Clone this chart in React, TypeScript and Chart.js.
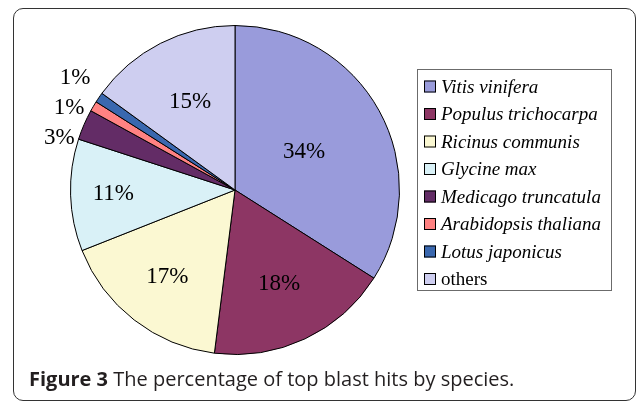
import { useEffect, useRef } from "react";
import { Chart, registerables } from "chart.js";

Chart.register(...registerables);

const species = [
  "Vitis vinifera",
  "Populus trichocarpa",
  "Ricinus communis",
  "Glycine max",
  "Medicago truncatula",
  "Arabidopsis thaliana",
  "Lotus japonicus",
  "others",
];
const italicNames = [true, true, true, true, true, true, true, false];
const percentages = [34, 18, 17, 11, 3, 1, 1, 15];
const percentLabels = ["34%", "18%", "17%", "11%", "3%", "1%", "1%", "15%"];
const sliceColors = [
  "#999BDB",
  "#8D3664",
  "#FBF8D2",
  "#D9F1F7",
  "#632C66",
  "#FF8282",
  "#3A68AF",
  "#CECEF0",
];
const captionBold = "Figure 3";
const captionText = " The percentage of top blast hits by species.";

// label placement style: fraction of radius for inside labels, 0 = outside
const insideRadius = [0.48, 0.63, 0.67, 0.74, 0, 0, 0, 0.6];

const labelPlugin = {
  id: "sliceLabels",
  afterDatasetsDraw(chart: any) {
    const meta = chart.getDatasetMeta(0);
    const ctx = chart.ctx;
    ctx.save();
    ctx.font = '23px "Liberation Serif"';
    ctx.fillStyle = "#000";
    ctx.textBaseline = "middle";
    const outside: any[] = [];
    meta.data.forEach((arc: any, i: number) => {
      const p = arc.getProps(["x", "y", "startAngle", "endAngle", "outerRadius"], true);
      const mid = (p.startAngle + p.endAngle) / 2;
      const f = insideRadius[i];
      if (f > 0) {
        ctx.textAlign = "center";
        ctx.fillText(
          percentLabels[i],
          p.x + Math.cos(mid) * p.outerRadius * f,
          p.y + Math.sin(mid) * p.outerRadius * f
        );
      } else {
        const r = p.outerRadius + 8;
        outside.push({ i, ax: p.x + Math.cos(mid) * r - 2, ay: p.y + Math.sin(mid) * r });
      }
    });
    if (outside.length) {
      const sorted = [...outside].sort((a, b) => a.ay - b.ay);
      const mean = sorted.reduce((s, o) => s + o.ay, 0) / sorted.length;
      const gap = 30;
      sorted.forEach((o, k) => {
        const y = mean + 2 + (k - (sorted.length - 1) / 2) * gap;
        ctx.textAlign = "right";
        ctx.fillText(percentLabels[o.i], o.ax, y);
      });
    }
    ctx.restore();
  },
};

const legendPlugin = {
  id: "boxLegend",
  afterDraw(chart: any) {
    const ctx = chart.ctx;
    const left = 417.5;
    const top = 69.5;
    const w = 194;
    const h = 221;
    ctx.save();
    ctx.strokeStyle = "#6b6b6b";
    ctx.lineWidth = 1;
    ctx.strokeRect(left, top, w, h);
    const colors = chart.data.datasets[0].backgroundColor;
    chart.data.labels.forEach((lab: string, i: number) => {
      const yc = 86.5 + i * 27.5;
      ctx.fillStyle = colors[i];
      ctx.fillRect(424, yc - 6, 12, 12);
      ctx.strokeStyle = "#000";
      ctx.strokeRect(424.5, yc - 5.5, 11, 11);
      ctx.fillStyle = "#000";
      ctx.font = (italicNames[i] ? "italic " : "") + '19px "Liberation Serif"';
      ctx.textAlign = "left";
      ctx.textBaseline = "middle";
      ctx.fillText(lab, 441, yc + 1);
    });
    ctx.restore();
  },
};

export default function App() {
  const ref = useRef<HTMLCanvasElement | null>(null);
  useEffect(() => {
    if (!ref.current) return;
    const chart = new Chart(ref.current, {
      type: "pie",
      data: {
        labels: species,
        datasets: [
          {
            data: percentages,
            backgroundColor: sliceColors,
            borderColor: "#000",
            borderWidth: 1,
            hoverOffset: 0,
          },
        ],
      },
      options: {
        animation: false,
        responsive: false,
        maintainAspectRatio: false,
        layout: { padding: { left: 70, right: 237, top: 25, bottom: 48 } },
        plugins: {
          legend: { display: false },
          tooltip: { enabled: false },
        },
      },
      plugins: [labelPlugin, legendPlugin],
    });
    return () => chart.destroy();
  }, []);

  return (
    <div
      style={{
        position: "fixed",
        left: 0,
        top: 0,
        width: 637,
        height: 403,
        background: "#fff",
      }}
    >
      <div
        style={{
          position: "absolute",
          left: 13,
          top: 8,
          width: 623,
          height: 393,
          boxSizing: "border-box",
          border: "1.5px solid #333",
          borderRadius: 10,
        }}
      />
      <canvas
        ref={ref}
        width={637}
        height={403}
        style={{ position: "absolute", left: 0, top: 0, width: 637, height: 403 }}
      />
      <div
        style={{
          position: "absolute",
          left: 29,
          top: 367,
          fontFamily: '"Open Sans", sans-serif',
          fontSize: 20,
          lineHeight: "24px",
          color: "#231f20",
          whiteSpace: "nowrap",
        }}
      >
        <b>{captionBold}</b>
        {captionText}
      </div>
    </div>
  );
}
